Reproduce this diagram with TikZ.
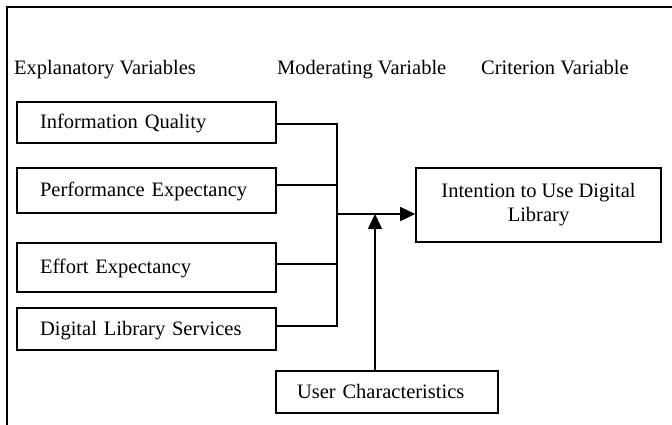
\documentclass[tikz,border=0pt]{standalone}
\usepackage{fontspec}
\setmainfont{Liberation Serif}
\usetikzlibrary{arrows.meta}
\begin{document}
\begin{tikzpicture}[x=1pt,y=-1pt,
  every node/.style={font=\fontsize{20.5}{24}\selectfont},
  ln/.style={line width=1.6pt},
  varbox/.style={draw,line width=1.6pt,align=left,text width=213pt,inner xsep=23pt,inner ysep=0pt,text height=15pt,text depth=3pt},
  hdr/.style={anchor=base west,inner sep=0pt},
  arr/.style={line width=1.6pt,-{Triangle[length=15pt,width=14pt]}}]
\useasboundingbox (0,0) rectangle (672,425);
% frame
\draw[line width=1.5pt] (7,425) -- (7,7) -- (672,7);
% headers
\node[hdr] (h1) at (14,75) {Explanatory Variables};
\node[hdr] (h2) at (277,75) {Moderating Variable};
\node[hdr] (h3) at (481,75) {Criterion Variable};
% explanatory boxes
\node[varbox,minimum height=41pt] (iq) at (146.5,122.5) {Information Quality};
\node[varbox,minimum height=45pt] (pe) at (146.5,190.5) {Performance Expectancy};
\node[varbox,minimum height=49pt] (ee) at (146.5,267.5) {Effort Expectancy};
\node[varbox,minimum height=42pt] (dls) at (146.5,329) {Digital Library Services};
% criterion
\node[draw,line width=1.6pt,align=center,minimum width=245pt,minimum height=74pt,inner sep=0pt] (tgt) at (538.5,205) {Intention to Use Digital\\Library};
% moderator
\node[varbox,text width=180pt,inner xsep=21pt,minimum height=42pt] (uc) at (387,392) {User Characteristics};
% junction coordinates
\coordinate (j1) at (337,124);
\coordinate (j2) at (337,185);
\coordinate (j3) at (337,264);
\coordinate (j4) at (337,326);
\coordinate (jm) at (337,214);
\coordinate (mm) at (375,214);
% connectors
\draw[ln] (iq.east |- j1) -- (j1) -- (j4) -- (dls.east |- j4);
\draw[ln] (pe.east |- j2) -- (j2);
\draw[ln] (ee.east |- j3) -- (j3);
\draw[arr] (jm) -- (tgt.west |- jm);
\draw[arr] (uc.north -| mm) -- (mm);
\end{tikzpicture}
\end{document}
